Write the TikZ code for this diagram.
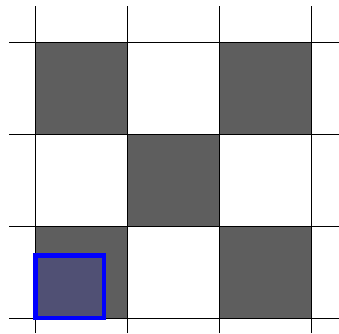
\documentclass[tikz,border=0pt]{standalone}
\usepackage{tikz}
\begin{document}
\begin{tikzpicture}[scale=1.5]
  \useasboundingbox (-0.386,-0.163) rectangle (3.299,3.457);

  \coordinate (O) at (0,0);
  \coordinate (C) at (0.74,0.68);

  % dark cells
  \foreach \i/\j in {0/0, 2/0, 1/1, 0/2, 2/2}
    \fill[black!63] (\i,\j) rectangle ++(1,1);

  % grid
  \foreach \k in {0,1,2,3} {
    \draw[line width=0.45pt] (\k,-0.163) -- (\k,3.39);
    \draw[line width=0.45pt] (-0.288,\k) -- (3.3,\k);
  }

  % window
  \draw[blue, line width=1.9pt, fill=blue, fill opacity=0.14] (O) rectangle (C);
\end{tikzpicture}
\end{document}
